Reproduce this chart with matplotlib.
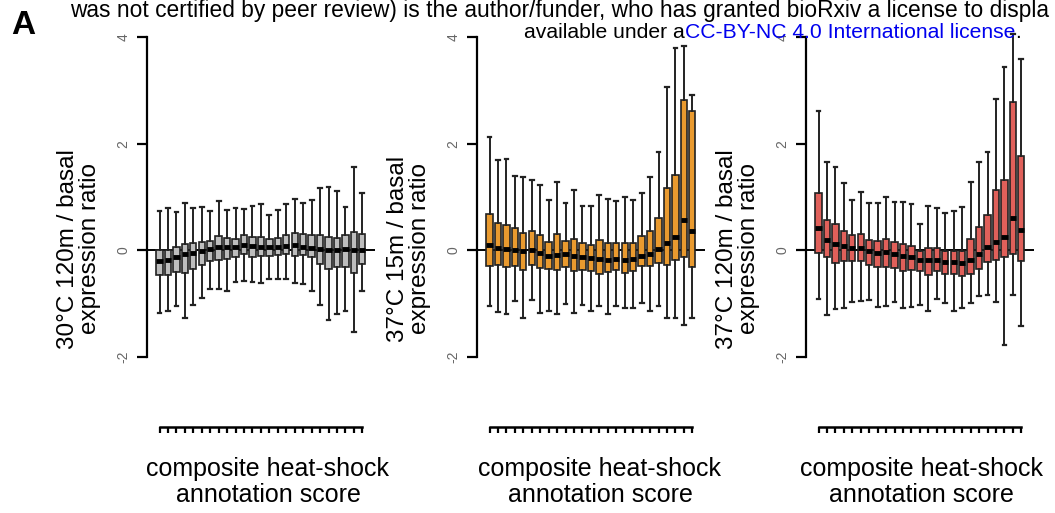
import matplotlib
matplotlib.use("Agg")
import matplotlib.pyplot as plt

plt.rcParams["font.family"] = ["Liberation Sans", "DejaVu Sans"]

# one box per annotation-score bin (25 bins)
positions = list(range(1, 26))

# 30C 120m / basal
p1_whislo = [-1.17, -1.13, -1.05, -1.27, -1.02, -0.89, -0.73, -0.73, -0.76, -0.60, -0.57, -0.60, -0.62,
             -0.54, -0.54, -0.54, -0.62, -0.63, -0.76, -1.03, -1.30, -1.19, -1.13, -1.54, -0.77]
p1_q1 = [-0.46, -0.46, -0.41, -0.43, -0.35, -0.27, -0.20, -0.18, -0.16, -0.13, -0.06, -0.13, -0.10,
         -0.10, -0.08, -0.06, -0.10, -0.08, -0.13, -0.25, -0.35, -0.32, -0.32, -0.43, -0.25]
p1_med = [-0.20, -0.18, -0.13, -0.06, -0.05, -0.01, 0.03, 0.06, 0.06, 0.06, 0.10, 0.08, 0.06,
          0.06, 0.06, 0.08, 0.10, 0.06, 0.05, 0.03, 0.01, 0.00, 0.03, 0.00, 0.01]
p1_q3 = [0.00, 0.01, 0.06, 0.11, 0.13, 0.16, 0.18, 0.27, 0.24, 0.22, 0.29, 0.25, 0.25,
         0.22, 0.24, 0.29, 0.32, 0.30, 0.29, 0.29, 0.25, 0.24, 0.29, 0.35, 0.30]
p1_whishi = [0.73, 0.79, 0.71, 0.88, 0.79, 0.81, 0.73, 0.92, 0.76, 0.79, 0.77, 0.83, 0.86,
             0.67, 0.76, 0.86, 0.97, 0.89, 0.95, 1.16, 1.19, 1.11, 0.81, 1.56, 1.08]

# 37C 15m / basal
p2_whislo = [-1.05, -1.16, -1.19, -0.95, -1.27, -0.94, -1.17, -1.13, -1.19, -1.00, -1.17, -1.03, -1.13,
             -1.05, -1.19, -1.05, -1.08, -1.08, -0.98, -1.14, -1.05, -1.26, -1.27, -1.40, -1.26]
p2_q1 = [-0.29, -0.27, -0.32, -0.29, -0.37, -0.27, -0.33, -0.35, -0.37, -0.32, -0.38, -0.37, -0.38,
         -0.44, -0.41, -0.37, -0.43, -0.38, -0.29, -0.29, -0.24, -0.27, -0.19, -0.13, -0.32]
p2_med = [0.10, 0.05, 0.03, 0.01, -0.01, 0.00, -0.05, -0.10, -0.08, -0.06, -0.11, -0.13, -0.14,
          -0.16, -0.19, -0.16, -0.18, -0.16, -0.11, -0.06, 0.03, 0.14, 0.25, 0.57, 0.37]
p2_q3 = [0.69, 0.52, 0.48, 0.41, 0.33, 0.37, 0.29, 0.16, 0.30, 0.17, 0.22, 0.14, 0.10,
         0.19, 0.13, 0.13, 0.13, 0.13, 0.27, 0.37, 0.60, 1.17, 1.41, 2.81, 2.62]
p2_whishi = [2.13, 1.70, 1.71, 1.40, 1.37, 1.32, 1.23, 0.94, 1.28, 0.89, 1.13, 0.83, 0.84,
             1.03, 0.97, 0.92, 1.00, 0.94, 1.07, 1.37, 1.84, 3.06, 3.80, 3.84, 2.91]

# 37C 120m / basal
p3_whislo = [-0.92, -1.21, -1.10, -1.08, -0.97, -0.95, -0.94, -1.07, -1.05, -0.97, -1.09, -1.07, -1.02,
             -1.13, -0.92, -0.98, -1.13, -1.08, -0.98, -0.86, -0.84, -0.97, -1.77, -0.84, -1.42]
p3_q1 = [-0.05, -0.13, -0.24, -0.20, -0.20, -0.20, -0.27, -0.32, -0.32, -0.33, -0.38, -0.37, -0.39,
         -0.46, -0.39, -0.44, -0.44, -0.48, -0.44, -0.35, -0.22, -0.19, -0.13, -0.06, -0.20]
p3_med = [0.41, 0.20, 0.11, 0.08, 0.05, 0.05, -0.01, -0.05, -0.03, -0.06, -0.11, -0.13, -0.19,
          -0.19, -0.19, -0.22, -0.22, -0.24, -0.19, -0.06, 0.06, 0.16, 0.25, 0.60, 0.38]
p3_q3 = [1.07, 0.57, 0.49, 0.36, 0.29, 0.30, 0.19, 0.17, 0.22, 0.16, 0.11, 0.08, -0.01,
         0.05, 0.05, -0.01, -0.01, -0.01, 0.22, 0.44, 0.67, 1.13, 1.31, 2.79, 1.77]
p3_whishi = [2.62, 1.66, 1.57, 1.26, 0.94, 1.09, 0.88, 0.88, 1.00, 0.90, 0.90, 0.86, 0.50,
             0.84, 0.79, 0.70, 0.73, 0.81, 1.28, 1.66, 1.84, 2.83, 3.43, 4.05, 3.59]

ylabels = ["30\u00b0C 120m / basal\nexpression ratio",
           "37\u00b0C 15m / basal\nexpression ratio",
           "37\u00b0C 120m / basal\nexpression ratio"]
colors = ["#bdbdbd", "#e99a2f", "#e0605a"]
yticks = [-2, 0, 2, 4]

panels = [
    (p1_whislo, p1_q1, p1_med, p1_q3, p1_whishi),
    (p2_whislo, p2_q1, p2_med, p2_q3, p2_whishi),
    (p3_whislo, p3_q1, p3_med, p3_q3, p3_whishi),
]

W, H = 1055, 513
fig = plt.figure(figsize=(W / 100, H / 100), dpi=100)

spine_x = [147, 477, 806]
label_cx = [268, 600, 921]

for i, (lo, q1, med, q3, hi) in enumerate(panels):
    ax = fig.add_axes([spine_x[i] / W, (H - 370) / H, 228 / W, 350 / H])
    stats = []
    for j in range(len(positions)):
        stats.append({"whislo": lo[j], "q1": q1[j], "med": med[j], "q3": q3[j], "whishi": hi[j]})
    ax.axhline(0, color="black", lw=1.4, zorder=1)
    ax.bxp(stats, positions=positions, widths=0.75, capwidths=0.45, showfliers=False,
           patch_artist=True,
           boxprops=dict(facecolor=colors[i], edgecolor="#222222", linewidth=1.2),
           medianprops=dict(color="black", linewidth=3.5, solid_capstyle="butt"),
           whiskerprops=dict(color="#222222", linewidth=1.4),
           capprops=dict(color="#222222", linewidth=1.6),
           manage_ticks=False, zorder=2)
    ax.set_xlim(-0.48, 26.5)
    ax.set_ylim(-2.244, 4.319)

    for s in ["top", "right"]:
        ax.spines[s].set_visible(False)
    ax.spines["left"].set_bounds(-2, 4)
    ax.spines["left"].set_linewidth(1.6)
    ax.spines["bottom"].set_position(("outward", 41))
    ax.spines["bottom"].set_bounds(1, 25)
    ax.spines["bottom"].set_linewidth(1.8)

    ax.set_yticks(yticks)
    ax.set_yticklabels([str(t) for t in yticks], rotation=90, va="center",
                       color="#666666", fontsize=10)
    ax.tick_params(axis="y", length=7, width=1.6, pad=5)
    ax.set_xticks(positions)
    ax.set_xticklabels([])
    ax.tick_params(axis="x", length=4.5, width=1.6, direction="out")
    ax.patch.set_alpha(0)

    fig.text((spine_x[i] - 68) / W, 1 - 249 / H, ylabels[i], rotation=90,
             ha="center", va="center", fontsize=17.5, linespacing=1.0)
    fig.text(label_cx[i] / W, 1 - 482 / H, "composite heat-shock\nannotation score",
             ha="center", va="center", fontsize=18, linespacing=1.15)

fig.text(23 / W, 1 - 25 / H, "A", fontsize=24, fontweight="bold", ha="center", va="center")

# bioRxiv header, clipped at the page edge in the reference
fig.canvas.draw()
r = fig.canvas.get_renderer()
t0 = fig.text(70 / W, 1 - 11 / H,
              "was not certified by peer review) is the author/funder, who has granted bioRxiv a license to displa",
              fontsize=14, va="center")
w0 = t0.get_window_extent(r).width
t0.set_fontsize(14 * (W - 1 - 70) / w0)

line2 = ["available under a", "CC-BY-NC 4.0 International license", "."]
line2_colors = ["black", "#0000ee", "black"]
pieces = []
for txt, c in zip(line2, line2_colors):
    pieces.append(fig.text(0, 1 - 32 / H, txt, fontsize=14, va="center", color=c))
total = sum(p.get_window_extent(r).width for p in pieces)
fs2 = 14 * (1025 - 524) / total
x = 524
for p in pieces:
    p.set_fontsize(fs2)
    p.set_x(x / W)
    x = p.get_window_extent(r).x1

fig.savefig("out.png", dpi=100)
